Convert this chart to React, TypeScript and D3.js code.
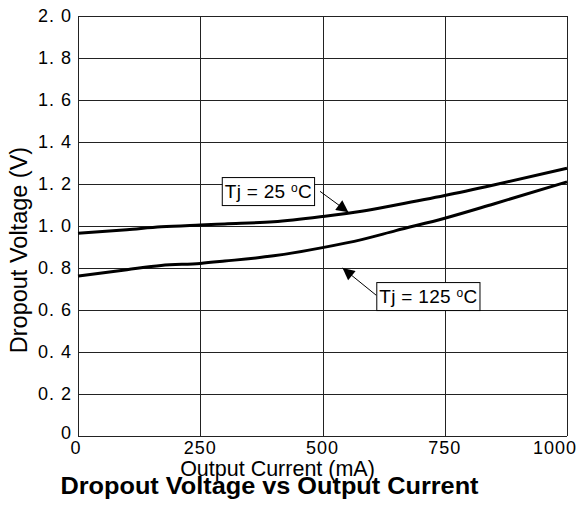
import { useRef, useEffect } from "react";
import * as d3 from "d3";

// ─── Data ─────────────────────────────────────────────────────────────────────

const currentMA = [0, 100, 170, 250, 300, 400, 500, 580, 650, 750, 850, 1000];
const vTj25 = [0.965, 0.982, 0.996, 1.005, 1.01, 1.02, 1.045, 1.07, 1.1, 1.145, 1.195, 1.275];
const vTj125 = [0.762, 0.792, 0.812, 0.822, 0.833, 0.858, 0.897, 0.935, 0.978, 1.037, 1.105, 1.21];

const xTicks = [0, 250, 500, 750, 1000];
const yTicks = [0, 0.2, 0.4, 0.6, 0.8, 1.0, 1.2, 1.4, 1.6, 1.8, 2.0];

// annotation: label box top-left (data coords), arrow tail / tip (data coords)
const labels = [
  { main: "Tj = 25 ", temp: "o", unit: "C", box: [294, 1.233], tail: [495, 1.165], tip: [553, 1.066] },
  { main: "Tj = 125 ", temp: "o", unit: "C", box: [610, 0.733], tail: [610, 0.67], tip: [541, 0.8] },
];

const W = 581;
const H = 507;
const M = { top: 16, right: 14, bottom: 71, left: 78 };
const FONT = "'Liberation Sans', Arial, Helvetica, sans-serif";

export default function App() {
  const svgRef = useRef<SVGSVGElement>(null);

  useEffect(() => {
    if (!svgRef.current) return;
    const innerW = W - M.left - M.right;
    const innerH = H - M.top - M.bottom;

    const x = d3.scaleLinear().domain([0, 1000]).range([0, innerW]);
    const y = d3.scaleLinear().domain([0, 2]).range([innerH, 0]);

    const svg = d3.select(svgRef.current);
    svg.selectAll("*").remove();

    svg.append("defs")
      .append("marker")
      .attr("id", "arr")
      .attr("viewBox", "0 0 10 10")
      .attr("refX", 10)
      .attr("refY", 5)
      .attr("markerWidth", 17)
      .attr("markerHeight", 12)
      .attr("markerUnits", "userSpaceOnUse")
      .attr("orient", "auto")
      .append("path")
      .attr("d", "M0,0 L10,5 L0,10 Z")
      .attr("fill", "#000");

    const g = svg.append("g").attr("transform", `translate(${M.left},${M.top})`);

    // ── Grid ─────────────────────────────────────────────────────────────────
    g.selectAll(".hgrid")
      .data(yTicks)
      .enter()
      .append("line")
      .attr("x1", 0)
      .attr("x2", innerW)
      .attr("y1", (d) => Math.round(y(d)) + 0.5)
      .attr("y2", (d) => Math.round(y(d)) + 0.5)
      .attr("stroke", "#222")
      .attr("stroke-width", 1);

    g.selectAll(".vgrid")
      .data(xTicks)
      .enter()
      .append("line")
      .attr("x1", (d) => Math.round(x(d)) + 0.5)
      .attr("x2", (d) => Math.round(x(d)) + 0.5)
      .attr("y1", 0)
      .attr("y2", innerH)
      .attr("stroke", "#222")
      .attr("stroke-width", 1);

    // ── Tick labels ──────────────────────────────────────────────────────────
    g.selectAll(".ylab")
      .data(yTicks)
      .enter()
      .append("text")
      .attr("x", -6)
      .attr("y", (d) => y(d) + (d === 0 ? -3 : 0))
      .attr("dy", "0.36em")
      .attr("text-anchor", "end")
      .attr("font-family", FONT)
      .attr("font-size", 18)
      .attr("letter-spacing", 1)
      .text((d) => (d === 0 ? "0" : d.toFixed(1).replace(".", ". ")));

    g.selectAll(".xlab")
      .data(xTicks)
      .enter()
      .append("text")
      .attr("x", (d) => (d === 1000 ? x(d) + 10 : d === 0 ? x(d) - 2 : x(d)))
      .attr("y", innerH + 18)
      .attr("text-anchor", (d) => (d === 1000 ? "end" : "middle"))
      .attr("font-family", FONT)
      .attr("font-size", 18)
      .attr("letter-spacing", 1)
      .text((d) => String(d));

    // ── Curves ───────────────────────────────────────────────────────────────
    const line = d3
      .line<number>()
      .x((_, i) => x(currentMA[i]))
      .y((d) => y(d))
      .curve(d3.curveMonotoneX);

    [vTj25, vTj125].forEach((s) => {
      g.append("path")
        .attr("d", line(s))
        .attr("fill", "none")
        .attr("stroke", "#000")
        .attr("stroke-width", 3);
    });

    // ── Annotations ──────────────────────────────────────────────────────────
    labels.forEach((l) => {
      g.append("line")
        .attr("x1", x(l.tail[0]))
        .attr("y1", y(l.tail[1]))
        .attr("x2", x(l.tip[0]))
        .attr("y2", y(l.tip[1]))
        .attr("stroke", "#000")
        .attr("stroke-width", 1)
        .attr("marker-end", "url(#arr)");

      const bx = x(l.box[0]);
      const by = y(l.box[1]);
      const rect = g.append("rect");
      const t = g.append("text")
        .attr("x", bx + 3)
        .attr("y", by + 21)
        .attr("font-family", FONT)
        .attr("font-size", 19)
        .attr("letter-spacing", 0.3);
      t.append("tspan").text(l.main);
      t.append("tspan").attr("font-size", 12).attr("dy", -6).text(l.temp);
      t.append("tspan").attr("dy", 6).text(l.unit);

      const bb = (t.node() as SVGTextElement).getBBox();
      rect
        .attr("x", bx + 0.5)
        .attr("y", by + 0.5)
        .attr("width", bb.width + 5)
        .attr("height", 28)
        .attr("fill", "#fff")
        .attr("stroke", "#000")
        .attr("stroke-width", 1);
    });

    // ── Axis titles ──────────────────────────────────────────────────────────
    g.append("text")
      .attr("x", innerW / 2 - 45)
      .attr("y", innerH + 40)
      .attr("text-anchor", "middle")
      .attr("font-family", FONT)
      .attr("font-size", 21.5)
      .text("Output Current (mA)");

    g.append("text")
      .attr("transform", "rotate(-90)")
      .attr("x", -(innerH / 2 + 24))
      .attr("y", -51)
      .attr("text-anchor", "middle")
      .attr("font-family", FONT)
      .attr("font-size", 23.5)
      .text("Dropout Voltage (V)");

    g.append("text")
      .attr("transform", `translate(${innerW / 2 - 53},${innerH + 58}) scale(1.1,1)`)
      .attr("text-anchor", "middle")
      .attr("font-family", FONT)
      .attr("font-size", 23)
      .attr("font-weight", "bold")
      .text("Dropout Voltage vs Output Current");
  }, []);

  return (
    <svg
      ref={svgRef}
      width={W}
      height={H}
      style={{ position: "absolute", left: 0, top: 0, background: "#fff" }}
    />
  );
}
